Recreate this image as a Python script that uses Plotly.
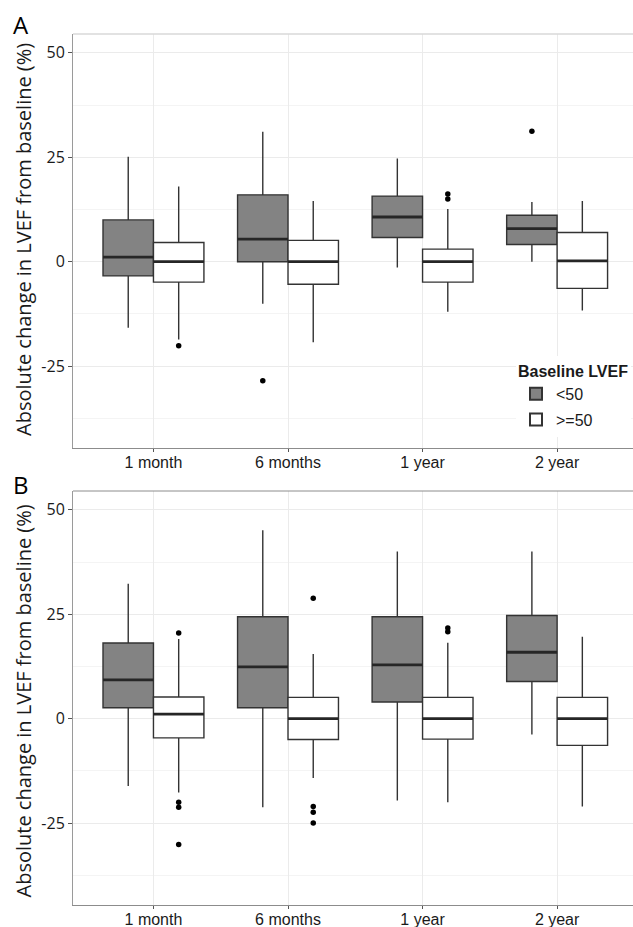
import plotly.graph_objects as go

categories = ["1 month", "6 months", "1 year", "2 year"]
groups = ["<50", ">=50"]

# Panel A statistics (per category)
a_lt50_upper = [25.1, 31.1, 24.7, 14.3]
a_lt50_q3 = [10.0, 16.0, 15.7, 11.1]
a_lt50_med = [1.1, 5.4, 10.7, 7.9]
a_lt50_q1 = [-3.4, 0.0, 5.8, 4.1]
a_lt50_lower = [-15.8, -10.1, -1.4, 0.0]
a_lt50_out = [[], [-28.5], [], [31.2]]

a_ge50_upper = [18.0, 14.5, 12.6, 14.5]
a_ge50_q3 = [4.6, 5.1, 3.0, 7.0]
a_ge50_med = [0.0, 0.0, 0.0, 0.2]
a_ge50_q1 = [-4.9, -5.4, -4.9, -6.4]
a_ge50_lower = [-18.6, -19.3, -12.0, -11.7]
a_ge50_out = [[-20.1], [], [16.2, 15.0], []]

# Panel B statistics
b_lt50_upper = [32.3, 45.1, 40.0, 40.0]
b_lt50_q3 = [18.1, 24.4, 24.4, 24.7]
b_lt50_med = [9.3, 12.4, 12.9, 15.9]
b_lt50_q1 = [2.6, 2.6, 4.0, 8.9]
b_lt50_lower = [-16.1, -21.2, -19.6, -3.8]
b_lt50_out = [[], [], [], []]

b_ge50_upper = [19.1, 15.5, 18.2, 19.6]
b_ge50_q3 = [5.2, 5.1, 5.1, 5.1]
b_ge50_med = [1.1, 0.0, 0.0, 0.0]
b_ge50_q1 = [-4.6, -5.0, -4.9, -6.4]
b_ge50_lower = [-17.7, -14.2, -20.0, -21.0]
b_ge50_out = [[20.5, -20.0, -21.2, -30.1], [28.8, -21.0, -22.4, -25.0], [21.7, 20.8], []]

y_ticks = [-25, 0, 25, 50]
y_minor = [-37.5, -12.5, 12.5, 37.5]

FILLS = {"<50": "#838383", ">=50": "#ffffff"}
LINE = "#333333"
BW = 0.375
OFFS = {"<50": -BW / 2, ">=50": BW / 2}

panels = [
    ("x", "y", {
        "<50": (a_lt50_lower, a_lt50_q1, a_lt50_med, a_lt50_q3, a_lt50_upper, a_lt50_out),
        ">=50": (a_ge50_lower, a_ge50_q1, a_ge50_med, a_ge50_q3, a_ge50_upper, a_ge50_out),
    }),
    ("x2", "y2", {
        "<50": (b_lt50_lower, b_lt50_q1, b_lt50_med, b_lt50_q3, b_lt50_upper, b_lt50_out),
        ">=50": (b_ge50_lower, b_ge50_q1, b_ge50_med, b_ge50_q3, b_ge50_upper, b_ge50_out),
    }),
]

fig = go.Figure()
for pi, (xa, ya, data) in enumerate(panels):
    for g in groups:
        lo, q1, med, q3, up, outs = data[g]
        xs = [i + OFFS[g] for i in range(len(categories))]
        fig.add_trace(go.Box(
            x=xs, q1=q1, median=med, q3=q3, lowerfence=lo, upperfence=up,
            width=BW, whiskerwidth=0, fillcolor=FILLS[g],
            line=dict(color=LINE, width=1.4), boxpoints=False,
            name=g, legendgroup=g, showlegend=(pi == 0),
            xaxis=xa, yaxis=ya, hoverinfo="skip"))
        # thicker median line
        mx, my = [], []
        for i, m in enumerate(med):
            mx += [xs[i] - BW / 2, xs[i] + BW / 2, None]
            my += [m, m, None]
        fig.add_trace(go.Scatter(x=mx, y=my, mode="lines",
                                 line=dict(color="#262626", width=2.8),
                                 showlegend=False, xaxis=xa, yaxis=ya, hoverinfo="skip"))
        ox, oy = [], []
        for i, o in enumerate(outs):
            ox += [xs[i]] * len(o)
            oy += o
        if ox:
            fig.add_trace(go.Scatter(x=ox, y=oy, mode="markers",
                                     marker=dict(color="black", size=5.5),
                                     showlegend=False, xaxis=xa, yaxis=ya, hoverinfo="skip"))

H = 927.0
W = 633.0
L = 73
PW = W - L
xaxis_common = dict(
    range=[-0.598, 3.564], tickmode="array",
    tickvals=list(range(len(categories))), ticktext=categories,
    showgrid=True, gridcolor="#ebebeb", gridwidth=1, zeroline=False,
    showline=True, linecolor="#8c8c8c", linewidth=1, mirror=False,
    ticks="outside", ticklen=3, tickcolor="#555555",
    ticklabelstandoff=-3,
    tickfont=dict(family="Liberation Sans, Arial", size=16, color="#1a1a1a"),
    fixedrange=True, automargin=False,
)
yaxis_common = dict(
    range=[-44.6, 54.5], tickmode="array", tickvals=y_ticks,
    ticktext=[str(v) for v in y_ticks],
    showgrid=True, gridcolor="#ebebeb", gridwidth=1, zeroline=False,
    minor=dict(tickmode="array", tickvals=y_minor, showgrid=True,
               gridcolor="#f4f4f4", gridwidth=1, ticks=""),
    showline=True, linecolor="#9a9a9a", linewidth=1, mirror=False,
    ticks="outside", ticklen=4, tickcolor="#555555",
    tickfont=dict(family="Open Sans", size=16, color="#1a1a1a"),
    fixedrange=True, automargin=False,
)

dA = [1 - 448 / H, 1 - 34 / H]
dB = [1 - 905 / H, 1 - 491 / H]

fig.update_layout(
    width=633, height=927,
    margin=dict(l=L, r=0, t=0, b=0, autoexpand=False),
    plot_bgcolor="white", paper_bgcolor="white",
    xaxis=dict(xaxis_common, domain=[0, 1], anchor="y"),
    yaxis=dict(yaxis_common, domain=dA, anchor="x"),
    xaxis2=dict(xaxis_common, domain=[0, 1], anchor="y2"),
    yaxis2=dict(yaxis_common, domain=dB, anchor="x2"),
    boxmode="overlay",
    legend=dict(
        x=(516 - L) / PW, y=1 - 356 / H, xanchor="left", yanchor="top",
        xref="paper", yref="paper",
        bgcolor="white", borderwidth=0,
        title=dict(text="<b>Baseline LVEF</b>",
                   font=dict(family="Liberation Sans, Arial", size=16, color="#1a1a1a"),
                   side="top"),
        font=dict(family="Liberation Sans, Arial", size=16, color="#1a1a1a"),
        tracegroupgap=2, itemsizing="constant",
    ),
    showlegend=True,
)

# top panel borders
fig.add_shape(type="line", xref="paper", yref="paper", x0=0, x1=1, y0=dA[1], y1=dA[1],
              line=dict(color="#d9d9d9", width=1.5))
fig.add_shape(type="line", xref="paper", yref="paper", x0=0, x1=1, y0=dB[1], y1=dB[1],
              line=dict(color="#8c8c8c", width=1))

ytitle = "Absolute change in LVEF from baseline (%)"
for yc in [(40 + 440) / 2, (498 + 905) / 2]:
    fig.add_annotation(text=ytitle, textangle=-90, xref="paper", yref="paper",
                       x=-50 / PW, y=1 - yc / H, xanchor="center", yanchor="middle",
                       showarrow=False,
                       font=dict(family="Open Sans", size=20, color="#1a1a1a"))

for lab, ytop in [("A", 6), ("B", 466)]:
    fig.add_annotation(text=lab, xref="paper", yref="paper",
                       x=-62 / PW, y=1 - ytop / H, xanchor="left", yanchor="top",
                       showarrow=False,
                       font=dict(family="Open Sans", size=24, color="#000000"))

fig.write_html("out.html", config={"displayModeBar": False},
               post_script="document.body.style.margin='0';document.body.style.overflow='hidden';")
